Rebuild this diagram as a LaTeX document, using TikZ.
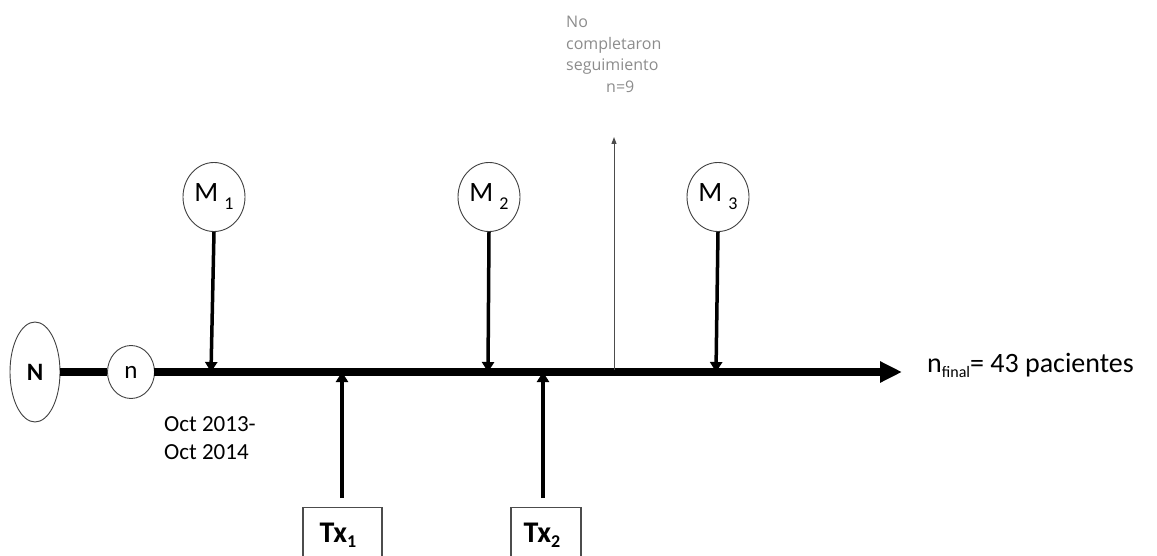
\documentclass[tikz,border=0pt]{standalone}
\usepackage{fontspec}
\setmainfont{Carlito}
\newfontfamily\grayfont{Open Sans}
\usetikzlibrary{arrows.meta,shapes.geometric}
\newcommand{\msub}[1]{\hspace{6pt}{\fontsize{18}{18}\selectfont\raisebox{-8pt}{#1}}}
\begin{document}
\begin{tikzpicture}[x=1pt,y=-1pt,
  oval/.style={draw=black!75, line width=0.9pt, ellipse, inner sep=0pt},
  mnode/.style={oval, minimum width=62pt, minimum height=69pt, font=\fontsize{28}{28}\selectfont},
  txbox/.style={draw=black!70, line width=1.2pt, minimum height=70pt, anchor=north, inner sep=0pt},
  thick arrow/.style={line width=3.5pt, -{Triangle[width=12pt,length=10pt]}},
  txlabel/.style={font=\bfseries\fontsize{30}{30}\selectfont, anchor=base, inner sep=0pt}
]
\useasboundingbox (0,0) rectangle (1157,556);
% nodes
\node[oval, minimum width=50pt, minimum height=100pt, font=\bfseries\fontsize{25}{25}\selectfont] (N) at (35,372) {N};
\node[oval, minimum width=47pt, minimum height=53pt, font=\fontsize{25}{25}\selectfont] (n) at (131,372) {n};
\node[mnode] (M1) at (214,197) {M\msub{1}};
\node[mnode] (M2) at (489,197) {M\msub{2}};
\node[mnode] (M3) at (718,197) {M\msub{3}};
\coordinate (L0) at (154,372);
\coordinate (Lend) at (902,372);
\coordinate (a1) at (211,372);
\coordinate (a2) at (488,372);
\coordinate (a3) at (716,372);
\coordinate (t1) at (342,372);
\coordinate (t2) at (543,372);
\coordinate (g0) at (614,370);
\coordinate (g1) at (614,137);
\coordinate (t1s) at (342,498);
\coordinate (t2s) at (543,498);
\node[txbox, minimum width=79pt] (Tx1) at (342.5,507) {};
\node[txbox, minimum width=70pt] (Tx2) at (546,507) {};
\node[txlabel] (Tx1l) at (338,542) {Tx{\fontsize{18}{18}\selectfont\raisebox{-5pt}{1}}};
\node[txlabel] (Tx2l) at (542,542) {Tx{\fontsize{18}{18}\selectfont\raisebox{-5pt}{2}}};
% main line
\draw[line width=8pt] (N) -- (n);
\draw[line width=8pt, -{Triangle[width=20pt,length=22pt]}] (L0) -- (Lend);
% arrows
\draw[thick arrow] (M1.south) -- (a1);
\draw[thick arrow] (M2.south) -- (a2);
\draw[thick arrow] (M3.south) -- (a3);
\draw[thick arrow] (t1s) -- (t1);
\draw[thick arrow] (t2s) -- (t2);
\draw[black!70, line width=1pt, -{Triangle[width=5pt,length=7pt]}] (g0) -- (g1);
% texts
\node[text=black!45, font=\grayfont\fontsize{16}{21.5}\selectfont, align=left, anchor=north west, inner sep=0pt] (nc) at (566,16) {No\\completaron\\seguimiento\\\hspace*{40pt}n=9};
\node[font=\fontsize{23}{28}\selectfont, align=left, anchor=north west, inner sep=0pt] (oct) at (164,416) {Oct 2013-\\Oct 2014};
\node[font=\fontsize{28}{28}\selectfont, anchor=base west, inner sep=0pt] (nf) at (927,372) {n{\fontsize{16}{16}\selectfont\raisebox{-5pt}{final}}= 43 pacientes};
\end{tikzpicture}
\end{document}
